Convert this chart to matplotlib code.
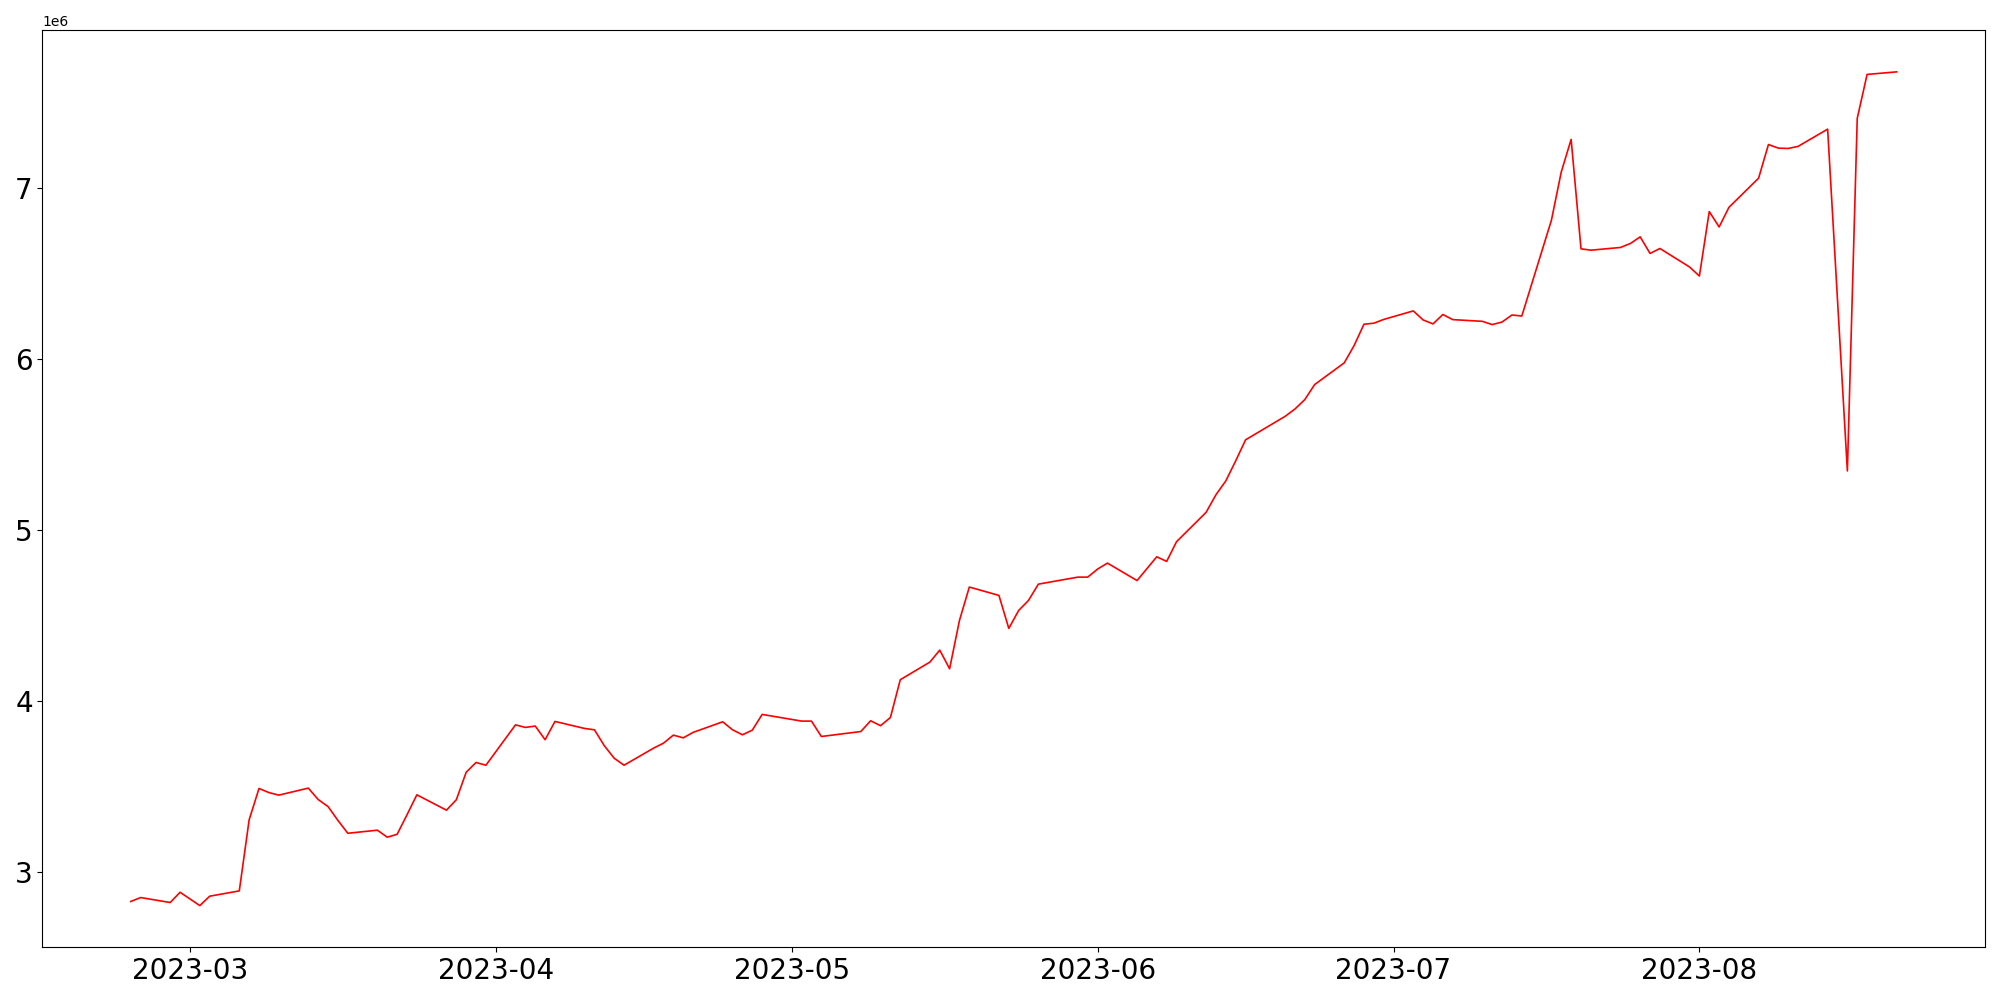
import numpy as np
import pandas as pd
import matplotlib
matplotlib.use('Agg')
import matplotlib.pyplot as plt

# Tanggal (hari kerja, beberapa hari tidak ada datanya)
dates = [
    '2023-02-23', '2023-02-24', '2023-02-27', '2023-02-28', '2023-03-02', '2023-03-03',
    '2023-03-06', '2023-03-07', '2023-03-08', '2023-03-09', '2023-03-10',
    '2023-03-13', '2023-03-14', '2023-03-15', '2023-03-16', '2023-03-17',
    '2023-03-20', '2023-03-21', '2023-03-22', '2023-03-23', '2023-03-24',
    '2023-03-27', '2023-03-28', '2023-03-29', '2023-03-30', '2023-03-31',
    '2023-04-03', '2023-04-04', '2023-04-05', '2023-04-06', '2023-04-07',
    '2023-04-10', '2023-04-11', '2023-04-12', '2023-04-13', '2023-04-14',
    '2023-04-17', '2023-04-18', '2023-04-19', '2023-04-20', '2023-04-21',
    '2023-04-24', '2023-04-25', '2023-04-26', '2023-04-27', '2023-04-28',
    '2023-05-02', '2023-05-03', '2023-05-04',
    '2023-05-08', '2023-05-09', '2023-05-10', '2023-05-11', '2023-05-12',
    '2023-05-15', '2023-05-16', '2023-05-17', '2023-05-18', '2023-05-19',
    '2023-05-22', '2023-05-23', '2023-05-24', '2023-05-25', '2023-05-26',
    '2023-05-30', '2023-05-31', '2023-06-01', '2023-06-02',
    '2023-06-05', '2023-06-07', '2023-06-08', '2023-06-09',
    '2023-06-12', '2023-06-13', '2023-06-14', '2023-06-15', '2023-06-16',
    '2023-06-20', '2023-06-21', '2023-06-22', '2023-06-23',
    '2023-06-26', '2023-06-27', '2023-06-28', '2023-06-29', '2023-06-30',
    '2023-07-03', '2023-07-04', '2023-07-05', '2023-07-06', '2023-07-07',
    '2023-07-10', '2023-07-11', '2023-07-12', '2023-07-13', '2023-07-14',
    '2023-07-17', '2023-07-18', '2023-07-19', '2023-07-20', '2023-07-21',
    '2023-07-24', '2023-07-25', '2023-07-26', '2023-07-27', '2023-07-28',
    '2023-07-31', '2023-08-01', '2023-08-02', '2023-08-03', '2023-08-04',
    '2023-08-07', '2023-08-08', '2023-08-09', '2023-08-10', '2023-08-11',
    '2023-08-14', '2023-08-16', '2023-08-17', '2023-08-18',
    '2023-08-21',
]

# Nilai (juta)
values_m = [
    2.826, 2.849, 2.820, 2.880, 2.802, 2.857,
    2.888, 3.304, 3.487, 3.463, 3.448,
    3.489, 3.422, 3.381, 3.300, 3.225,
    3.243, 3.202, 3.219, 3.333, 3.450,
    3.360, 3.421, 3.582, 3.639, 3.623,
    3.859, 3.844, 3.852, 3.772, 3.879,
    3.838, 3.830, 3.737, 3.664, 3.623,
    3.723, 3.752, 3.799, 3.783, 3.815,
    3.877, 3.830, 3.801, 3.828, 3.920,
    3.881, 3.881, 3.791,
    3.820, 3.883, 3.854, 3.902, 4.123,
    4.226, 4.296, 4.187, 4.470, 4.665,
    4.616, 4.423, 4.528, 4.587, 4.682,
    4.723, 4.723, 4.770, 4.805,
    4.703, 4.842, 4.815, 4.930,
    5.102, 5.205, 5.286, 5.403, 5.526,
    5.663, 5.706, 5.761, 5.849,
    5.976, 6.077, 6.202, 6.208, 6.230,
    6.280, 6.227, 6.204, 6.259, 6.229,
    6.219, 6.200, 6.215, 6.256, 6.250,
    6.810, 7.093, 7.283, 6.643, 6.635,
    6.651, 6.674, 6.713, 6.616, 6.645,
    6.537, 6.484, 6.861, 6.771, 6.886,
    7.056, 7.253, 7.232, 7.230, 7.242,
    7.343, 5.344, 7.406, 7.663,
    7.678,
]

x = pd.to_datetime(dates)
y = np.array(values_m) * 1e6

plt.figure(figsize=(20, 10))
plt.plot(x, y, color='red', linewidth=1.2)
plt.xticks(fontsize=20)
plt.yticks(fontsize=20)
plt.tight_layout()
plt.savefig('out.png', dpi=100)
